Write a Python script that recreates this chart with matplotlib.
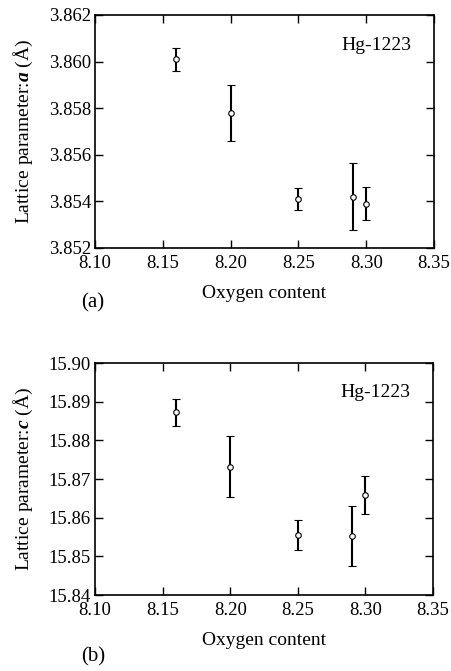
import matplotlib
matplotlib.use("Agg")
import matplotlib.pyplot as plt

plt.rcParams["font.family"] = "Liberation Serif"
plt.rcParams["mathtext.fontset"] = "custom"
plt.rcParams["mathtext.it"] = "Liberation Serif:italic:bold"
plt.rcParams["mathtext.rm"] = "Liberation Serif"

oxygen = [8.16, 8.20, 8.25, 8.29, 8.30]

a_param = [3.8601, 3.8578, 3.8541, 3.8542, 3.8539]
a_err = [0.0005, 0.0012, 0.00047, 0.00144, 0.0007]

c_param = [15.8873, 15.8732, 15.8555, 15.8553, 15.8658]
c_err = [0.0035, 0.0078, 0.0039, 0.0077, 0.0049]

xticks = [8.10, 8.15, 8.20, 8.25, 8.30, 8.35]
a_ticks = [3.852, 3.854, 3.856, 3.858, 3.860, 3.862]
c_ticks = [15.84, 15.85, 15.86, 15.87, 15.88, 15.89, 15.90]

fig = plt.figure(figsize=(4.52, 6.71), dpi=100)
W, H = 452, 671
ax_a = fig.add_axes([95 / W, 1 - 248 / H, 339 / W, 233 / H])
ax_c = fig.add_axes([95 / W, 1 - 595 / H, 338 / W, 232 / H])

panels = [
    (ax_a, a_param, a_err, a_ticks, "%.3f", r"Lattice parameter:$\mathit{a}$ (Å)", "(a)", 303),
    (ax_c, c_param, c_err, c_ticks, "%.2f", r"Lattice parameter:$\mathit{c}$ (Å)", "(b)", 657),
]

for ax, vals, errs, yt, fmt, ylab, tag, tag_y in panels:
    ax.errorbar(oxygen, vals, yerr=errs, fmt="o", color="black",
                mfc="white", mec="black", ms=4, mew=0.8,
                ecolor="black", elinewidth=1.5, capsize=3, capthick=1.5)
    ax.set_xlim(8.10, 8.35)
    ax.set_ylim(yt[0], yt[-1])
    ax.set_xticks(xticks)
    ax.set_xticklabels(["%.2f" % t for t in xticks])
    ax.set_yticks(yt)
    ax.set_yticklabels([fmt % t for t in yt])
    ax.tick_params(direction="in", top=True, right=True, length=6,
                   width=1, labelsize=13.5)
    ax.tick_params(axis="x", pad=5)
    ax.tick_params(axis="y", pad=3)
    for s in ax.spines.values():
        s.set_linewidth(1.2)
    ax.set_xlabel("Oxygen content", fontsize=14, labelpad=9.5)
    ax.set_ylabel(ylab, fontsize=14, labelpad=10)
    ax.text(0.932, 0.871, "Hg-1223", transform=ax.transAxes,
            ha="right", va="center", fontsize=14)
    fig.text(93 / W, 1 - tag_y / H, tag, ha="center", va="center", fontsize=15)

fig.savefig("out.png", dpi=100)
